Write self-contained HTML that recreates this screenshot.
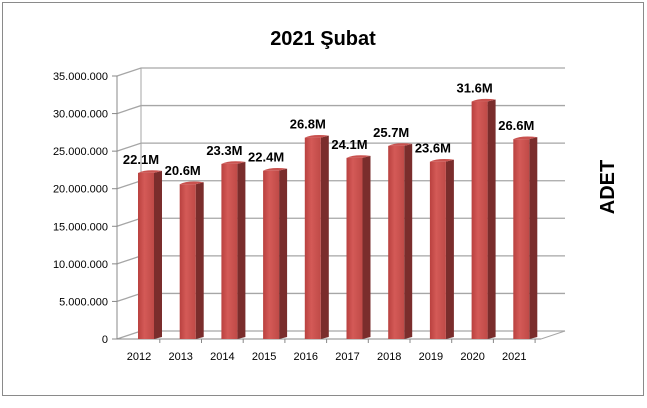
<!DOCTYPE html>
<html><head><meta charset="utf-8"><style>
body{margin:0;background:#fff;width:647px;height:408px;overflow:hidden;font-family:"Liberation Sans",sans-serif}
</style></head><body>
<svg width="647" height="408" style="position:absolute;left:0;top:0">
<defs>
<linearGradient id="front" x1="0" x2="1"><stop offset="0" stop-color="#b9413f"/><stop offset="0.4" stop-color="#d45a57"/><stop offset="1" stop-color="#bf4a47"/></linearGradient>
</defs>
<rect x="2.5" y="2.5" width="641" height="393" fill="#fff" stroke="#8a8a8a"/>
<text x="323" y="45" text-anchor="middle" font-size="20" font-weight="bold" fill="#000">2021 Şubat</text>
<text transform="translate(614,187) rotate(-90)" text-anchor="middle" font-size="20" font-weight="bold" fill="#000">ADET</text>
<g id="grid"></g><g id="bars"></g>
</svg>
<script>
const categories=["2012","2013","2014","2015","2016","2017","2018","2019","2020","2021"];
const values=[22.1,20.6,23.3,22.4,26.8,24.1,25.7,23.6,31.6,26.6];
const valueLabels=["22.1M","20.6M","23.3M","22.4M","26.8M","24.1M","25.7M","23.6M","31.6M","26.6M"];
const tickValues=[0,5,10,15,20,25,30,35];
const tickLabels=["0","5.000.000","10.000.000","15.000.000","20.000.000","25.000.000","30.000.000","35.000.000"];
const NS="http://www.w3.org/2000/svg";
const y0=339,ymax=35,hgt=263,dx=24,dy=-8,fx=117,bxR=565;
function y(v){return y0-v/ymax*hgt;}
function xc(i){return 139+i*41.7;}
function mk(t,a,p){const e=document.createElementNS(NS,t);for(const k in a)e.setAttribute(k,a[k]);p.appendChild(e);return e;}
const g=document.getElementById('grid');
tickValues.forEach((v,i)=>{
  const yy=y(v);
  const l=mk('polyline',{points:`${fx},${yy} ${fx+dx},${yy+dy} ${bxR},${yy+dy}`,fill:'none',stroke:'#a6a6a6','stroke-width':1.3},g);
  
  
  const tk=mk('line',{x1:fx-5,y1:yy,x2:fx,y2:yy,stroke:'#888'},g);
  
  
  const t=mk('text',{x:fx-9,y:yy+4,'text-anchor':'end','font-size':11,fill:'#000'},g);
  t.textContent=tickLabels[i];
  
  
});
const ax=mk('line',{x1:fx,y1:y(0),x2:fx,y2:y(ymax),stroke:'#888'},g);


const xa=mk('line',{x1:fx,y1:y0,x2:bxR-dx,y2:y0,stroke:'#888'},g);


mk('line',{x1:bxR-dx,y1:y0,x2:bxR,y2:y0+dy,stroke:'#a6a6a6'},g);
mk('line',{x1:fx+dx,y1:y0+dy,x2:fx+dx,y2:y(ymax)+dy,stroke:'#a6a6a6'},g);
const b=document.getElementById('bars');
categories.forEach((c,i)=>{
  const cx=xc(i),x1=cx-1,w=16,sd=8,top=y(values[i]);
  const grp=mk('g',{},b);
  
  
  mk('path',{d:`M${x1+w},${top} L${x1+w+sd},${top-2} L${x1+w+sd},${y0-2} L${x1+w},${y0} Z`,fill:'#7a2d2c'},grp);
  mk('rect',{x:x1,y:top,width:w,height:y0-top,fill:'url(#front)'},grp);
  mk('path',{d:`M${x1},${top} Q${x1+8},${top-4} ${x1+w+sd},${top-2} L${x1+w},${top} Z`,fill:'#c9524f'},grp);
  const tk=mk('line',{x1:cx+20.8,y1:y0,x2:cx+20.8,y2:y0+4,stroke:'#888'},b);
  
  
  const t=mk('text',{x:cx,y:360,'text-anchor':'middle','font-size':11,fill:'#000'},b);
  t.textContent=c;
  
  
  const vl=mk('text',{x:cx+2,y:top-9,'text-anchor':'middle','font-size':13,'font-weight':'bold',fill:'#000'},b);
  vl.textContent=valueLabels[i];
  
  
});
</script>
</body></html>
